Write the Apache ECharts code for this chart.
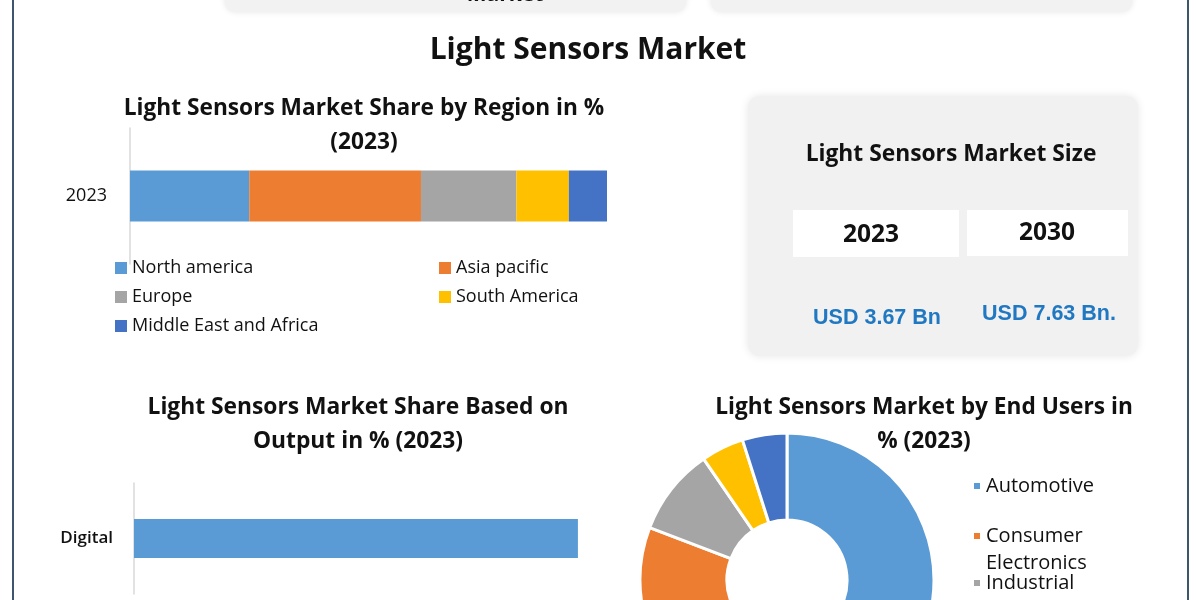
<!DOCTYPE html>
<html>
<head>
<meta charset="utf-8">
<script src="https://cdn.jsdelivr.net/npm/echarts@6/dist/echarts.min.js"></script>
<style>
html,body{margin:0;padding:0;background:#fff;}
#c{width:1200px;height:600px;}
</style>
</head>
<body>
<div id="c"></div>
<script>
// ---- data ----
const mainTitle = 'Light Sensors Market';
const regionTitle = ['Light Sensors Market Share by Region in %', '(2023)'];
const regionYears = ['2023'];
const regionNames = ['North america', 'Asia pacific', 'Europe', 'South America', 'Middle East and Africa'];
const regionShare = [25, 36, 20, 11, 8];

const sizeTitle = 'Light Sensors Market Size';
const sizeYears = ['2023', '2030'];
const sizeValues = ['USD 3.67 Bn', 'USD 7.63 Bn.'];

const outputTitle = ['Light Sensors Market Share Based on', 'Output in % (2023)'];
const outputCats = ['Digital'];
const outputShare = [62];

const endTitle = ['Light Sensors Market by End Users in', '% (2023)'];
const endNames = ['Automotive', 'Consumer Electronics', 'Industrial', 'Healthcare', 'Others'];
const endShare = [47.2, 33.6, 9.6, 4.7, 4.9];

const palette = ['#5b9bd5', '#ed7d31', '#a5a5a5', '#ffc000', '#4472c4'];
const FONT = '"Open Sans", Lato, sans-serif';

const chart = echarts.init(document.getElementById('c'));

function txt(text, x, y, size, opts) {
  opts = opts || {};
  return {
    type: 'text', z: 10,
    style: {
      text: text, x: x, y: y,
      fill: opts.color || '#111',
      fontFamily: opts.family || FONT,
      fontSize: size,
      fontWeight: opts.weight || 'bold',
      align: opts.align || 'center',
      verticalAlign: opts.va || 'middle'
    }
  };
}

// legends: one component per item for exact placement
const legends = [];
const regionLegendPos = [[115, 268], [439, 268], [115, 297], [439, 297], [115, 326]];
regionNames.forEach((n, i) => {
  legends.push({
    data: [n], left: regionLegendPos[i][0], top: regionLegendPos[i][1] - 11,
    padding: 0, icon: 'rect', itemWidth: 12, itemHeight: 12,
    textStyle: { fontFamily: FONT, fontSize: 18, color: '#111', lineHeight: 22 }
  });
});
const endLegendPos = [[972, 486], [972, 536], [972, 583]];
[0, 1, 2].forEach(i => {
  const multi = endNames[i].indexOf(' ') > 0;
  legends.push({
    data: [endNames[i]], left: endLegendPos[i][0],
    top: endLegendPos[i][1] - (multi ? 40.5 : 11),
    padding: 0, icon: 'rect', itemWidth: 8, itemHeight: 8,
    formatter: multi ? (name => '\n' + name.replace(' ', '\n')) : undefined,
    textStyle: { fontFamily: FONT, fontSize: 20, color: '#111', lineHeight: multi ? 27 : 22 }
  });
});

const regionSeries = regionNames.map((n, i) => ({
  name: n, type: 'bar', stack: 'r', xAxisIndex: 0, yAxisIndex: 0,
  barWidth: 51, data: [regionShare[i]],
  itemStyle: { color: palette[i] }, silent: true
}));

const option = {
  animation: false,
  backgroundColor: '#ffffff',
  legend: legends,
  grid: [
    { left: 130, top: 128, width: 477, height: 136 },
    { left: 134, top: 483, width: 716, height: 111 }
  ],
  xAxis: [
    { gridIndex: 0, type: 'value', min: 0, max: 100, show: false },
    { gridIndex: 1, type: 'value', min: 0, max: 100, show: false }
  ],
  yAxis: [
    { gridIndex: 0, type: 'category', data: regionYears,
      axisLine: { lineStyle: { color: '#d9d9d9', width: 1.5 } }, axisTick: { show: false },
      axisLabel: { fontFamily: FONT, fontSize: 18, color: '#111', margin: 23 } },
    { gridIndex: 1, type: 'category', data: outputCats, inverse: true,
      axisLine: { lineStyle: { color: '#d9d9d9', width: 1.5 } }, axisTick: { show: false },
      axisLabel: { fontFamily: FONT, fontSize: 17, color: '#111', fontWeight: 600, margin: 21 } }
  ],
  series: regionSeries.concat([
    { name: 'Output', type: 'bar', xAxisIndex: 1, yAxisIndex: 1, barWidth: 39,
      data: outputShare, itemStyle: { color: palette[0] }, silent: true },
    { name: 'End Users', type: 'pie', center: [787, 580], radius: [60, 147],
      startAngle: 90, clockwise: true, label: { show: false }, labelLine: { show: false },
      itemStyle: { borderColor: '#ffffff', borderWidth: 3 }, silent: true,
      data: endNames.map((n, i) => ({ name: n, value: endShare[i], itemStyle: { color: palette[i] } })) }
  ]),
  graphic: [
    // page side borders
    { type: 'rect', shape: { x: 12, y: 0, width: 2, height: 600 }, style: { fill: '#3d566e' } },
    { type: 'rect', shape: { x: 1187, y: 0, width: 2, height: 600 }, style: { fill: '#3d566e' } },
    // top partial cards
    { type: 'rect', shape: { x: 225, y: -30, width: 461, height: 42, r: 10 },
      style: { fill: '#f2f2f2', shadowBlur: 6, shadowColor: 'rgba(0,0,0,0.10)' } },
    { type: 'rect', shape: { x: 711, y: -30, width: 421, height: 42, r: 10 },
      style: { fill: '#f2f2f2', shadowBlur: 6, shadowColor: 'rgba(0,0,0,0.10)' } },
    txt('Market', 505, 6, 21, { va: 'bottom' }),
    // main title
    txt(mainTitle, 588, 50, 30),
    // region title
    txt(regionTitle[0], 364, 109, 22.7),
    txt(regionTitle[1], 364, 143, 22.7),
    // market size card
    { type: 'rect', shape: { x: 748, y: 96, width: 390, height: 260, r: 12 },
      style: { fill: '#f1f1f1', shadowBlur: 8, shadowColor: 'rgba(0,0,0,0.10)' } },
    txt(sizeTitle, 951, 155, 22.8),
    { type: 'rect', z: 5, shape: { x: 793, y: 210, width: 166, height: 47 }, style: { fill: '#ffffff' } },
    { type: 'rect', z: 5, shape: { x: 967, y: 210, width: 161, height: 46 }, style: { fill: '#ffffff' } },
    txt(sizeYears[0], 871, 235, 24.5),
    txt(sizeYears[1], 1047, 233, 24.5),
    txt(sizeValues[0], 877, 318, 21.5, { color: '#1f78c1', family: '"Liberation Sans", Arial, sans-serif' }),
    txt(sizeValues[1], 1049, 314, 21.5, { color: '#1f78c1', family: '"Liberation Sans", Arial, sans-serif' }),
    // output title
    txt(outputTitle[0], 358, 408, 22.8),
    txt(outputTitle[1], 358, 442, 22.8),
    // end-user title
    txt(endTitle[0], 924, 408, 22.7),
    txt(endTitle[1], 924, 442, 22.7)
  ]
};
chart.setOption(option);
</script>
</body>
</html>
